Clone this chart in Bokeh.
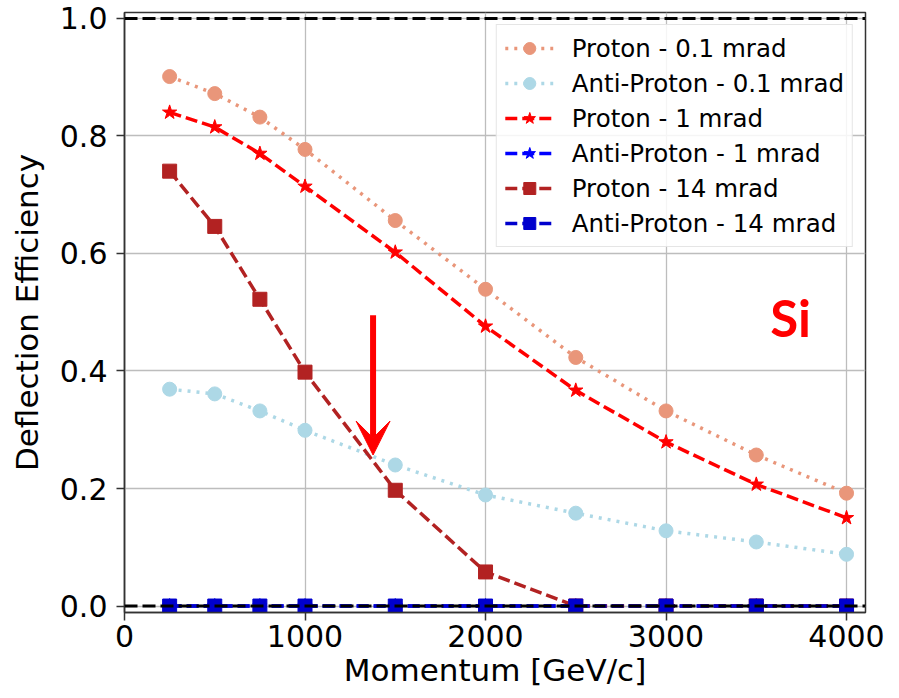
from bokeh.plotting import figure
from bokeh.models import (Range1d, FixedTicker, PrintfTickFormatter, Legend, LegendItem,
                          Span, Arrow, VeeHead, Label)
from bokeh.embed import file_html
from bokeh.resources import INLINE

# ---- data ----
momentum = [250, 500, 750, 1000, 1500, 2000, 2500, 3000, 3500, 4000]
proton_01 = [0.901, 0.872, 0.832, 0.777, 0.656, 0.539, 0.423, 0.332, 0.257, 0.192]
antiproton_01 = [0.369, 0.361, 0.332, 0.299, 0.240, 0.189, 0.158, 0.128, 0.109, 0.088]
proton_1 = [0.840, 0.815, 0.770, 0.714, 0.602, 0.476, 0.367, 0.279, 0.207, 0.150]
antiproton_1 = [0.0] * 10
proton_14 = [0.740, 0.646, 0.522, 0.398, 0.197, 0.058, 0.0, 0.0, 0.0, 0.0]
antiproton_14 = [0.0] * 10
labels = ["Proton - 0.1 mrad", "Anti-Proton - 0.1 mrad", "Proton - 1 mrad",
          "Anti-Proton - 1 mrad", "Proton - 14 mrad", "Anti-Proton - 14 mrad"]
x_ticks = [0, 1000, 2000, 3000, 4000]
y_ticks = [0.0, 0.2, 0.4, 0.6, 0.8, 1.0]
ref_levels = [1.0, 0.0]
arrow_x, arrow_y0, arrow_y1 = 1377, 0.495, 0.257
si_x, si_y = 3690, 0.491

FONT = "DejaVu Sans"

p = figure(width=899, height=698, output_backend="svg", toolbar_location=None,
           x_range=Range1d(0, 4105), y_range=Range1d(-0.011, 1.01),
           min_border_left=124, min_border_right=34, min_border_top=12, min_border_bottom=86)
p.background_fill_color = "white"
p.border_fill_color = "white"
p.outline_line_color = "#333333"
p.outline_line_width = 1.5

for ax, ticks, fmt in [(p.xaxis[0], x_ticks, "%d"), (p.yaxis[0], y_ticks, "%.1f")]:
    ax.ticker = FixedTicker(ticks=ticks)
    ax.formatter = PrintfTickFormatter(format=fmt)
    ax.major_label_text_font = FONT
    ax.major_label_text_font_size = "30px"
    ax.major_label_text_color = "black"
    ax.axis_label_text_font = FONT
    ax.axis_label_text_font_size = "31px"
    ax.axis_label_text_font_style = "normal"
    ax.axis_label_text_color = "black"
    ax.major_tick_out = 8
    ax.major_tick_in = 0
    ax.minor_tick_out = 0
    ax.minor_tick_in = 0
    ax.major_tick_line_color = "#333333"
    ax.major_tick_line_width = 1.5
    ax.axis_line_color = "#333333"
    ax.axis_line_width = 1.5

p.xaxis.axis_label = "Momentum [GeV/c]"
p.yaxis.axis_label = "Deflection Efficiency"
p.xaxis.major_label_standoff = 4
p.xaxis.axis_label_standoff = 2
p.yaxis.major_label_standoff = 9
p.yaxis.axis_label_standoff = 12

p.xgrid.ticker = FixedTicker(ticks=x_ticks)
p.ygrid.ticker = FixedTicker(ticks=y_ticks)
for g in (p.xgrid, p.ygrid):
    g.grid_line_color = "#bdbdbd"
    g.grid_line_width = 1.3

series = [
    (proton_01, "darksalmon", "3 6", "circle", 14),
    (antiproton_01, "lightblue", "3 6", "circle", 14),
    (proton_1, "red", "12 5", "star", 15),
    (antiproton_1, "blue", "12 5", "star", 15),
    (proton_14, "firebrick", "12 5", "square", 14),
    (antiproton_14, "mediumblue", "12 5", "square", 14),
]

items = []
for (vals, color, dash, marker, size), lab in zip(series, labels):
    ln = p.line(momentum, vals, line_color=color, line_width=3.5, line_dash=dash)
    sc = p.scatter(momentum, vals, marker=marker, size=size, fill_color=color,
                   line_color=color, line_width=1)
    items.append(LegendItem(label=lab, renderers=[ln, sc]))

for lvl in ref_levels:
    p.add_layout(Span(location=lvl, dimension="width", line_color="black",
                      line_width=3, line_dash="13 5"))

p.add_layout(Arrow(x_start=arrow_x, y_start=arrow_y0, x_end=arrow_x, y_end=arrow_y1,
                   line_color="red", line_width=6,
                   end=VeeHead(size=34, fill_color="red", line_color="red", line_width=1)))

p.add_layout(Label(x=si_x, y=si_y, text="Si", text_font="Lato", text_font_style="bold",
                   text_font_size="51px", text_color="red", text_align="center",
                   text_baseline="middle"))

legend = Legend(items=items, location="top_right", margin=12, padding=8,
                spacing=5, glyph_width=49, glyph_height=30, label_height=30,
                label_standoff=18, label_text_font=FONT, label_text_font_size="24.5px",
                label_text_color="black",
                border_line_color="#cccccc", border_line_width=1.5,
                background_fill_color="white", background_fill_alpha=0.85)
p.add_layout(legend)

open("out.html", "w").write(file_html(p, INLINE))
